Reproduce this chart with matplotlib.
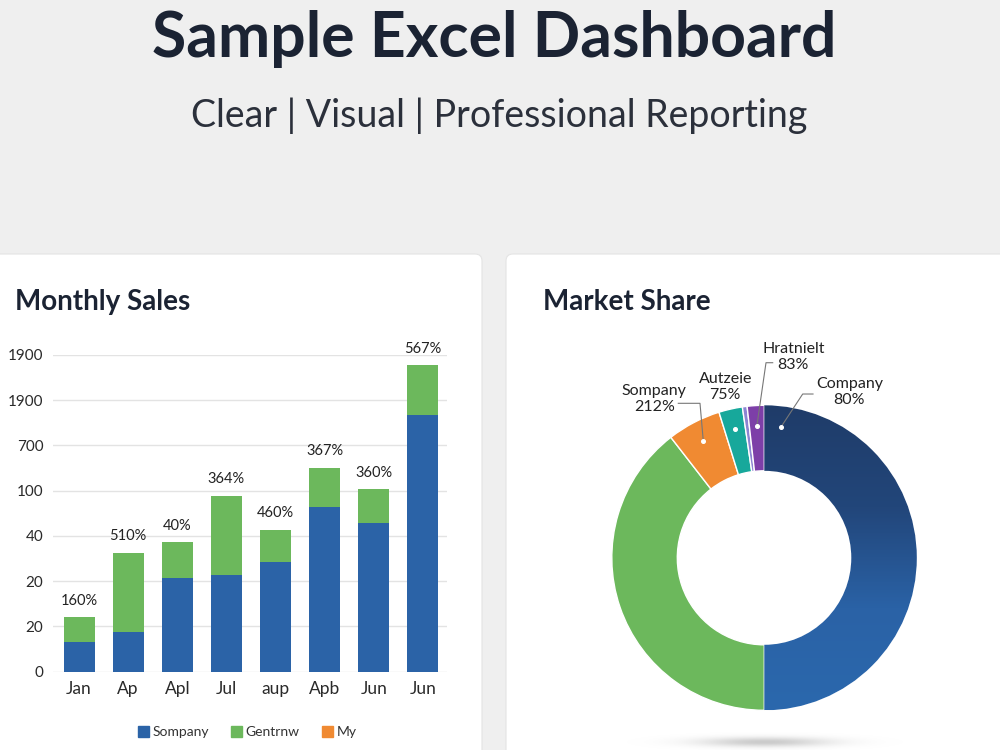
import numpy as np
import matplotlib
matplotlib.use("Agg")
import matplotlib.pyplot as plt
from matplotlib.patches import FancyBboxPatch, Patch
from matplotlib.colors import LinearSegmentedColormap, to_rgb

plt.rcParams["font.family"] = ["Lato", "DejaVu Sans"]

# ---- data ----
months = ["Jan", "Ap", "Apl", "Jul", "aup", "Apb", "Jun", "Jun"]
blue_part = [0.66, 0.87, 2.07, 2.14, 2.42, 3.63, 3.28, 5.68]
green_part = [0.54, 1.75, 0.79, 1.75, 0.71, 0.88, 0.75, 1.09]
bar_labels = ["160%", "510%", "40%", "364%", "460%", "367%", "360%", "567%"]
ytick_labels = ["0", "20", "20", "40", "100", "700", "1900", "1900"]
legend_names = ["Sompany", "Gentrnw", "My"]

share_values = [50.0, 39.5, 5.7, 2.5, 0.5, 1.8]
share_colors = ["#23508a", "#6cb85c", "#f08a32", "#17a89b", "#8c84d2", "#7d3fa8"]
share_names = ["Company", "", "Sompany", "Autzeie", "", "Hratnielt"]
share_pcts = ["80%", "", "212%", "75%", "", "83%"]

BLUE = "#2b63a7"
GREEN = "#6cb85c"
ORANGE = "#f08a32"
DARK = "#1b2333"

fig = plt.figure(figsize=(10, 7.5), dpi=100)
fig.patch.set_facecolor("#efefef")

# background canvas in pixel units
bg = fig.add_axes([0, 0, 1, 1], zorder=0)
bg.set_xlim(0, 1000)
bg.set_ylim(750, 0)
bg.axis("off")

for x0, x1 in [(-10, 482), (506, 1010)]:
    bg.add_patch(FancyBboxPatch((x0, 254), x1 - x0, 520,
                                boxstyle="round,pad=0,rounding_size=7",
                                facecolor="white", edgecolor="#e4e4e4", lw=0.8))

bg.text(494, 57, "Sample Excel Dashboard", ha="center", va="baseline",
        fontsize=45, fontweight="bold", color=DARK)
bg.text(499, 127, "Clear | Visual | Professional Reporting", ha="center",
        va="baseline", fontsize=27, fontweight="normal", color="#2b303b")
bg.text(15, 310, "Monthly Sales", ha="left", va="baseline", fontsize=20,
        fontweight="bold", color=DARK)
bg.text(543, 310, "Market Share", ha="left", va="baseline", fontsize=20,
        fontweight="bold", color=DARK)

# soft shadow under the donut
gx = np.linspace(-1, 1, 300)
gy = np.linspace(-1, 1, 40)
GX, GY = np.meshgrid(gx, gy)
alpha = 0.45 * np.exp(-(GX ** 2) / 0.18 - (GY ** 2) / 0.12)
shadow = np.zeros((40, 300, 4))
shadow[..., :3] = to_rgb("#8a8a8a")
shadow[..., 3] = alpha
bg.imshow(shadow, extent=[615, 915, 756, 728], aspect="auto", zorder=1)
bg.set_xlim(0, 1000)
bg.set_ylim(750, 0)

# ---- stacked bars ----
ax = fig.add_axes([0.053, 0.1044, 0.394, 0.4223], zorder=2)
ax.patch.set_alpha(0)
x = np.arange(len(months))
totals = np.array(blue_part) + np.array(green_part)
ax.bar(x, blue_part, 0.63, color=BLUE, zorder=3)
ax.bar(x, green_part, 0.63, bottom=blue_part, color=GREEN, zorder=3)
for xi, t, lbl in zip(x, totals, bar_labels):
    ax.annotate(lbl, (xi, t), xytext=(0, 7), textcoords="offset points",
                ha="center", va="bottom", fontsize=10.5, color="#222222")
ax.set_xlim(-0.53, 7.49)
ax.set_ylim(0, 7)
ax.set_yticks(range(8))
ax.set_yticklabels(ytick_labels)
ax.set_xticks(x)
ax.set_xticklabels(months)
ax.tick_params(axis="y", length=0, pad=7, labelsize=11, labelcolor="#2a2a2a")
ax.tick_params(axis="x", length=0, pad=7, labelsize=12.5, labelcolor="#2a2a2a")
ax.grid(axis="y", color="#e3e3e3", lw=1, zorder=0)
for s in ax.spines.values():
    s.set_visible(False)

handles = [Patch(color=c) for c in [BLUE, GREEN, ORANGE]]
fig.legend(handles, legend_names, loc="center", bbox_to_anchor=(0.247, 0.0235),
           ncol=3, frameon=False, fontsize=10, handlelength=0.8, handleheight=0.8,
           handletextpad=0.25, columnspacing=1.6, labelcolor="#333333")

# ---- donut ----
ax2 = fig.add_axes([0.59, 0.0229, 0.35, 0.4667], zorder=2)
R = 1.525
wedges, _ = ax2.pie(share_values, colors=share_colors, radius=R, startangle=90,
                    counterclock=False,
                    wedgeprops=dict(width=0.655, edgecolor="white", linewidth=1.0))

# dark at the top, lighter towards the bottom of the big blue slice
cmap = LinearSegmentedColormap.from_list(
    "b", ["#1f3c69", "#22467a", "#2a62a6", "#2b68ad"])
yy = np.linspace(0, 1, 200)[:, None] * np.ones((1, 50))
grad = ax2.imshow(yy, extent=[0, R, -R, R], cmap=cmap, aspect="auto", zorder=2)
grad.set_clip_path(wedges[0])

ax2.set_xlim(-1.743, 1.757)
ax2.set_ylim(-1.75, 1.75)
ax2.set_aspect("equal")
ax2.set_axis_off()

# white marker dots on slices
dot_angles = {}
start = 90.0
for i, v in enumerate(share_values):
    span = v * 3.6
    dot_angles[i] = start - span / 2
    start -= span
dot_angles[0] = 90 - 7.3
dot_r = 1.32

label_pos = {0: (0.85, 1.655), 2: (-1.10, 1.59), 3: (-0.39, 1.71), 5: (0.29, 2.01)}
leader_knee = {0: [(0.487, 1.638), (0.384, 1.638)],
               2: [(-0.86, 1.545), (-0.643, 1.545)],
               5: [(0.084, 1.951), (0.017, 1.951)]}
for i, (lx, ly) in label_pos.items():
    a = np.deg2rad(dot_angles[i])
    dx, dy = dot_r * np.cos(a), dot_r * np.sin(a)
    ax2.plot(dx, dy, "o", ms=2.6, color="white", zorder=5)
    if i in leader_knee:
        pts = leader_knee[i] + [(dx, dy)]
        ax2.plot([p[0] for p in pts], [p[1] for p in pts], color="#777777",
                 lw=0.8, zorder=4, clip_on=False)
    ax2.text(lx, ly, share_names[i] + "\n" + share_pcts[i], ha="center",
             va="center", fontsize=11.5, color="#222222", linespacing=1.2)

fig.savefig("out.png", dpi=100, facecolor=fig.get_facecolor())
